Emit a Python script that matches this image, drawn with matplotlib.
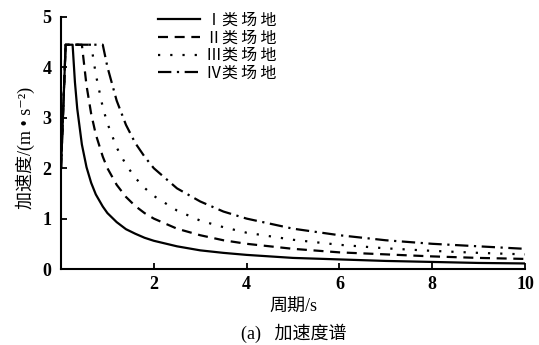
import numpy as np
import matplotlib
matplotlib.use('Agg')
import matplotlib.pyplot as plt

plt.rcParams['font.family'] = ['Liberation Serif', 'Noto Sans CJK SC', 'DejaVu Sans']

# period (s) and spectral acceleration (m/s^2)
period = [0, 0.1, 0.25, 0.3, 0.35, 0.45, 0.55, 0.65, 0.75, 0.9, 1.0, 1.2, 1.4,
          1.6, 1.8, 2.0, 2.5, 3.0, 3.5, 4, 5, 6, 7, 8, 9, 10]
site_1 = [2.0, 4.45, 4.45, 3.71, 3.18, 2.47, 2.02, 1.71, 1.48, 1.24, 1.11, 0.93, 0.79,
          0.70, 0.62, 0.56, 0.45, 0.37, 0.32, 0.28, 0.22, 0.19, 0.16, 0.14, 0.12, 0.11]
site_2 = [2.0, 4.45, 4.45, 4.45, 4.45, 4.45, 3.64, 3.08, 2.67, 2.23, 2.00, 1.67, 1.43,
          1.25, 1.11, 1.00, 0.80, 0.67, 0.57, 0.50, 0.40, 0.33, 0.29, 0.25, 0.22, 0.20]
site_3 = [2.0, 4.45, 4.45, 4.45, 4.45, 4.45, 4.45, 4.45, 3.86, 3.21, 2.89, 2.41, 2.07,
          1.81, 1.61, 1.45, 1.16, 0.96, 0.83, 0.72, 0.58, 0.48, 0.41, 0.36, 0.32, 0.29]
site_4 = [2.0, 4.45, 4.45, 4.45, 4.45, 4.45, 4.45, 4.45, 4.45, 4.45, 4.01, 3.34, 2.86,
          2.50, 2.23, 2.00, 1.60, 1.34, 1.14, 1.00, 0.80, 0.67, 0.57, 0.50, 0.45, 0.40]

labels = ['Ⅰ类\u2009场\u2009地', 'Ⅱ类\u2009场\u2009地', 'Ⅲ类\u2009场\u2009地', 'Ⅳ类\u2009场\u2009地']
styles = ['-', (0, (4.5, 3)), (0, (1, 4.5)), (0, (6, 2.5, 1, 2.5))]
x_ticks = [2, 4, 6, 8, 10]
y_ticks = [0, 1, 2, 3, 4, 5]

fig = plt.figure(figsize=(5.39, 3.45), dpi=100)
ax = fig.add_axes([61 / 539, 1 - 269 / 345, 464 / 539, 252 / 345])

for vals, ls, lab in zip([site_1, site_2, site_3, site_4], styles, labels):
    ax.plot(period, vals, color='black', lw=1.6, linestyle=ls, label=lab)

ax.set_xlim(0, 10)
ax.set_ylim(0, 5)
ax.set_xticks(x_ticks)
ax.set_yticks(y_ticks)
for s in ['top', 'right']:
    ax.spines[s].set_visible(False)
for s in ['left', 'bottom']:
    ax.spines[s].set_linewidth(1.5)
ax.tick_params(direction='in', length=4, width=1.3, labelsize=13)
ax.tick_params(axis='x', pad=5)
ax.tick_params(axis='y', pad=7)
for t in ax.get_xticklabels() + ax.get_yticklabels():
    t.set_fontweight('bold')

ax.set_xlabel('周期/s', fontsize=13, labelpad=4)
ax.set_ylabel('加速度/(m • s⁻²)', fontsize=13)
ax.yaxis.set_label_coords(-26 / 464, 0.48)
fig.text(294 / 539, 1 - 333 / 345, '(a)   加速度谱', fontsize=13, ha='center', va='center')

ax.legend(loc='upper left', bbox_to_anchor=(158 / 539, 1 - 13 / 345),
          bbox_transform=fig.transFigure, frameon=False, fontsize=11.5,
          handlelength=2.6, handletextpad=0.4, labelspacing=0.1,
          borderpad=0, borderaxespad=0)

fig.savefig('out.png', dpi=100)
